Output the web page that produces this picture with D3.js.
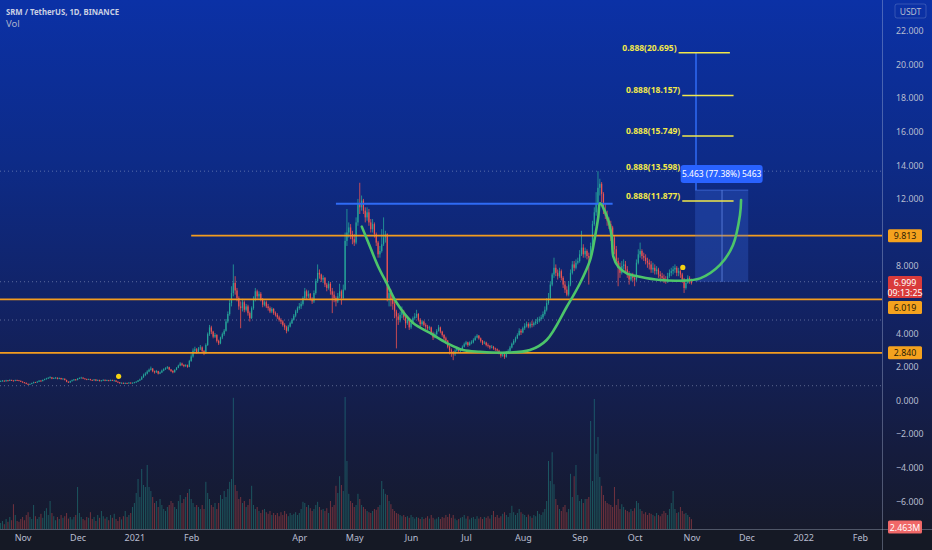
<!DOCTYPE html>
<html><head><meta charset="utf-8">
<script src="https://cdn.jsdelivr.net/npm/d3@7"></script>
<style>
html,body{margin:0;padding:0;background:#131722;}
svg{display:block;}
text{font-family:"Noto Sans",Roboto,sans-serif;}
</style></head><body>
<svg id="chart" width="932" height="550"></svg>
<script>
// ---------------- DATA ----------------
const title = "SRM / TetherUS, 1D, BINANCE";
const subTitle = "Vol";
const firstDay = [2020, 9, 20];           // first daily candle (UTC)
const firstOpen = 1.13;
const closes = [
1.15,1.18,1.14,1.20,1.17,1.22,1.19,1.16,1.21,1.20,
1.17,1.12,1.08,1.05,0.99,0.95,0.98,1.03,1.09,1.07,
1.12,1.18,1.15,1.22,1.27,1.31,1.35,1.38,1.30,1.33,
1.36,1.29,1.34,1.27,1.30,1.22,1.12,1.07,1.15,1.20,
1.25,1.22,1.30,1.34,1.36,1.31,1.28,1.24,1.27,1.22,
1.20,1.25,1.18,1.22,1.16,1.19,1.23,1.18,1.21,1.17,
1.22,1.19,1.19,1.12,1.08,1.03,1.05,1.01,1.04,1.02,
1.06,1.03,1.05,1.08,1.12,1.19,1.25,1.38,1.52,1.60,
1.72,1.83,1.90,1.74,1.68,1.75,1.60,1.67,1.78,1.86,
1.92,1.98,1.85,1.76,1.68,1.82,1.95,2.08,2.20,2.12,
2.05,2.10,2.00,2.35,2.62,2.97,3.05,2.88,3.10,3.16,
2.95,2.80,3.30,3.95,4.35,4.10,3.80,3.90,3.55,3.40,
3.75,3.95,4.15,4.70,5.15,5.80,6.40,7.00,6.55,6.10,
5.60,5.50,5.85,5.40,5.60,5.20,4.90,5.50,6.00,6.50,
6.20,6.35,6.00,5.70,5.85,5.60,5.50,5.30,5.45,5.20,
5.10,4.95,4.80,4.70,4.50,4.35,4.15,4.40,4.60,4.80,
5.05,5.30,5.50,5.60,5.75,6.10,6.50,6.20,6.35,6.05,
5.90,6.40,7.10,7.60,7.50,7.20,7.30,6.90,6.70,6.95,
6.50,6.30,6.10,5.90,6.20,6.50,6.10,6.60,9.50,10.00,
10.30,9.90,9.60,9.40,10.60,11.70,11.50,11.90,11.30,10.90,
11.20,10.60,10.20,10.50,9.90,9.40,8.70,8.90,9.30,9.70,
9.90,6.10,6.40,6.00,5.75,5.30,5.00,4.80,5.10,5.30,
4.95,4.60,4.80,4.35,4.60,4.90,5.00,5.15,4.80,4.55,
4.70,4.50,4.40,4.30,4.35,4.00,3.75,3.95,4.15,4.35,
4.10,3.90,3.70,3.56,3.20,3.00,2.90,2.75,2.97,3.10,
2.95,3.05,3.20,3.35,3.46,3.30,3.45,3.46,3.60,3.75,
3.86,3.70,3.55,3.40,3.45,3.30,3.25,3.16,3.20,3.10,
3.05,2.97,2.80,2.67,2.75,2.60,2.87,2.95,3.15,3.38,
3.55,3.70,3.90,4.15,4.05,4.30,4.45,4.55,4.40,4.55,
4.50,4.60,4.70,4.75,4.85,4.95,5.15,5.40,5.80,6.10,
6.90,7.50,7.90,7.60,7.40,7.70,7.30,6.90,6.60,6.30,
6.90,7.60,8.10,7.90,8.20,8.30,8.70,9.10,8.70,8.90,
8.60,8.50,9.20,10.50,11.20,11.70,12.66,12.90,12.30,11.30,
11.00,10.70,10.50,10.30,9.70,9.00,8.30,7.90,7.60,8.00,
8.10,7.80,7.50,7.20,7.40,7.30,7.20,8.20,8.70,8.90,
8.60,8.50,8.30,8.20,8.10,7.80,7.90,7.70,7.80,7.50,
7.40,7.30,7.20,7.10,7.40,7.60,7.70,7.80,7.90,7.60,
7.70,7.50,7.20,6.70,7.00,7.30,7.10,6.999];
const highs = [
1.19,1.22,1.20,1.23,1.22,1.26,1.24,1.21,1.24,1.24,
1.22,1.19,1.14,1.10,1.07,1.01,1.01,1.06,1.12,1.11,
1.15,1.21,1.21,1.25,1.30,1.35,1.39,1.44,1.39,1.37,
1.40,1.37,1.37,1.35,1.33,1.31,1.24,1.14,1.18,1.24,
1.28,1.28,1.33,1.38,1.41,1.38,1.33,1.30,1.30,1.29,
1.25,1.28,1.27,1.25,1.24,1.22,1.26,1.25,1.24,1.23,
1.25,1.24,1.23,1.21,1.14,1.10,1.08,1.07,1.07,1.06,
1.09,1.08,1.08,1.11,1.15,1.22,1.30,1.45,1.60,1.68,
1.80,1.90,2.02,1.93,1.78,1.82,1.77,1.72,1.84,1.92,
1.98,2.05,2.01,1.88,1.80,1.86,1.99,2.13,2.28,2.25,
2.15,2.16,2.14,2.42,2.75,3.10,3.20,3.12,3.18,3.30,
3.22,3.00,3.40,4.05,4.50,4.45,4.15,4.02,3.95,3.62,
3.80,4.05,4.25,4.85,5.30,6.00,6.80,8.10,7.40,6.70,
6.20,5.90,6.05,5.95,5.75,5.70,5.30,5.60,6.20,6.70,
6.60,6.50,6.45,6.10,5.95,5.95,5.75,5.60,5.55,5.50,
5.30,5.20,5.05,4.90,4.78,4.60,4.45,4.50,4.70,4.90,
5.15,5.40,5.60,5.80,5.90,6.20,6.70,6.60,6.55,6.40,
6.15,6.55,7.25,8.10,7.80,7.55,7.45,7.35,7.00,7.10,
7.05,6.70,6.50,6.20,6.40,6.95,6.60,6.90,10.00,11.40,
10.60,10.50,10.10,9.90,10.90,12.00,12.96,12.20,12.00,11.50,
11.50,11.40,10.80,10.80,10.60,10.00,9.50,9.20,10.20,10.90,
10.10,9.95,6.70,6.60,6.20,5.90,5.40,5.20,5.30,5.60,
5.40,5.05,4.95,4.90,4.75,5.00,5.20,5.40,5.20,4.90,
4.80,4.75,4.60,4.50,4.45,4.40,4.10,4.05,4.25,4.50,
4.40,4.15,3.95,3.80,3.60,3.25,3.10,2.95,3.05,3.20,
3.15,3.12,3.28,3.45,3.55,3.50,3.52,3.58,3.70,3.85,
3.95,3.90,3.75,3.60,3.55,3.50,3.40,3.30,3.30,3.25,
3.15,3.10,3.02,2.85,2.85,2.80,2.95,3.05,3.25,3.45,
3.65,3.80,4.00,4.30,4.25,4.40,4.60,4.70,4.65,4.65,
4.75,4.70,4.85,4.95,5.00,5.10,5.30,5.60,6.10,6.40,
7.10,7.60,8.50,8.10,7.80,7.90,7.80,7.40,7.10,6.80,
7.10,7.80,8.30,8.30,8.40,8.50,8.95,10.10,9.30,9.10,
9.00,8.80,9.40,10.70,11.50,12.40,13.65,13.20,13.00,12.40,
11.70,11.30,10.90,10.70,10.40,9.80,9.20,8.50,8.20,8.30,
8.40,8.30,8.00,7.70,7.60,7.60,7.40,8.40,9.00,9.40,
9.00,8.80,8.70,8.50,8.40,8.30,8.20,8.10,8.00,7.90,
7.70,7.60,7.50,7.40,7.60,7.80,7.90,8.00,8.10,8.00,
7.90,7.80,7.60,7.30,7.20,7.45,7.40,7.25];
const lows = [
1.11,1.13,1.12,1.13,1.14,1.16,1.16,1.13,1.15,1.16,
1.15,1.10,1.06,1.02,0.97,0.92,0.94,0.97,1.02,1.04,
1.05,1.10,1.12,1.14,1.20,1.25,1.29,1.32,1.27,1.28,
1.30,1.26,1.27,1.24,1.25,1.19,1.09,1.04,1.06,1.13,
1.18,1.19,1.20,1.28,1.31,1.28,1.25,1.21,1.22,1.19,
1.17,1.18,1.15,1.16,1.13,1.14,1.17,1.15,1.16,1.14,
1.15,1.16,1.15,1.10,1.05,1.00,1.01,0.98,0.99,0.99,
1.01,1.01,1.02,1.03,1.06,1.10,1.16,1.23,1.35,1.45,
1.55,1.68,1.78,1.68,1.60,1.64,1.55,1.57,1.64,1.74,
1.82,1.88,1.80,1.70,1.62,1.66,1.80,1.92,2.04,2.05,
1.98,2.00,1.95,1.98,2.30,2.55,2.85,2.78,2.85,3.00,
2.85,2.70,2.78,3.25,3.85,3.95,3.70,3.72,3.45,3.30,
3.35,3.65,3.85,4.10,4.60,5.05,5.60,6.20,6.30,5.90,
5.40,4.30,5.30,5.25,5.30,5.05,4.70,4.85,5.40,5.90,
6.05,6.05,5.90,5.55,5.60,5.50,5.35,5.20,5.20,5.10,
5.00,4.85,4.70,4.55,4.40,4.20,4.00,4.10,4.35,4.55,
4.75,4.95,5.20,5.40,5.45,5.65,6.00,6.05,6.10,5.95,
5.75,5.80,6.30,7.00,7.25,7.05,7.00,6.75,6.50,6.60,
6.30,5.20,5.85,5.60,5.80,6.10,5.70,6.00,6.55,9.20,
9.70,9.60,9.30,9.20,9.30,10.40,11.10,11.30,11.10,10.60,
10.70,10.40,10.00,10.00,9.70,9.20,8.50,8.50,8.80,9.20,
9.40,5.90,5.60,5.60,5.40,4.90,3.10,4.50,4.65,4.90,
4.80,4.30,4.50,4.20,4.25,4.55,4.80,4.90,4.70,4.40,
4.45,4.40,4.25,4.20,4.20,3.90,3.60,3.70,3.85,4.10,
4.00,3.80,3.60,3.40,3.10,2.75,2.60,2.40,2.65,2.90,
2.85,2.88,3.00,3.15,3.28,3.20,3.25,3.35,3.40,3.55,
3.70,3.62,3.45,3.30,3.35,3.22,3.15,3.05,3.10,3.02,
2.95,2.90,2.75,2.55,2.60,2.48,2.55,2.80,2.90,3.10,
3.30,3.45,3.65,3.85,3.90,4.00,4.20,4.35,4.30,4.30,
4.35,4.40,4.50,4.55,4.65,4.75,4.85,5.05,5.30,5.70,
6.00,6.80,7.30,7.40,7.20,7.30,7.15,6.70,6.40,6.20,
6.20,6.80,7.50,7.70,7.80,8.10,8.20,8.60,8.50,8.50,
8.40,6.90,8.40,9.10,10.40,11.00,11.60,12.20,11.80,11.10,
10.80,10.40,10.20,9.50,9.40,8.70,8.10,6.80,7.30,7.50,
7.80,7.60,7.30,6.90,7.10,7.10,6.80,7.10,8.10,8.50,
8.40,8.30,8.10,7.90,7.80,7.60,7.60,7.50,7.50,7.30,
7.20,7.10,7.00,6.95,7.00,7.30,7.40,7.50,7.60,7.40,
7.40,7.30,7.00,6.40,6.60,6.95,6.95,6.90];
const volumesM = [
1.5,2.0,1.2,2.5,1.8,3.0,2.2,6.2,3.5,2.0,
1.8,2.5,3.0,2.2,3.5,4.2,3.0,2.5,6.0,3.2,
2.5,3.0,3.8,2.8,4.5,5.2,3.5,7.0,4.0,3.2,
2.2,3.0,2.5,3.5,2.8,3.2,4.0,2.6,3.0,2.4,
3.0,3.5,10.5,4.0,3.0,2.5,2.2,3.0,2.8,4.2,
2.5,3.0,2.0,3.5,2.8,4.5,3.2,2.6,3.0,2.2,
3.5,2.8,3.8,2.5,2.0,3.0,2.4,3.2,4.5,3.0,
3.5,4.0,5.5,6.5,9.0,12.5,8.0,15.0,11.0,10.5,
16.0,10.5,9.5,8.0,6.5,7.0,5.5,7.5,6.0,5.0,
4.5,5.5,6.0,7.0,6.5,5.5,5.0,7.0,8.5,6.5,
7.5,8.0,9.0,10.0,7.5,6.5,5.5,6.0,5.5,5.0,
6.0,5.0,11.8,9.0,7.5,6.0,5.5,6.5,5.0,6.5,
8.5,7.5,9.5,8.0,10.0,11.8,12.5,32.8,11.0,9.5,
7.5,8.0,6.5,7.0,5.5,6.0,7.5,10.8,6.0,5.0,
5.5,4.5,4.0,4.8,5.0,4.2,3.8,4.5,3.5,4.0,
3.5,4.0,3.2,4.2,3.5,4.5,3.8,3.2,4.0,3.5,
3.8,4.2,3.5,4.0,5.0,6.8,6.5,5.5,6.0,5.2,
4.5,5.0,6.0,6.8,5.5,4.8,5.0,4.5,5.2,4.0,
7.0,5.5,6.0,10.8,9.0,13.2,11.0,9.5,33.0,17.0,
8.8,7.0,6.5,5.5,6.0,8.8,7.5,6.0,5.5,5.0,
4.5,4.2,4.0,4.5,5.0,4.8,5.5,6.0,12.0,10.0,
8.8,8.5,7.0,6.2,5.0,4.5,4.0,3.8,3.5,3.2,
3.5,3.0,3.2,2.8,3.5,3.0,2.6,3.0,2.8,2.5,
3.0,2.5,2.8,3.2,2.6,3.5,2.8,2.4,2.6,3.0,
2.5,3.0,2.8,3.5,3.0,3.8,2.8,3.5,2.6,2.2,
2.5,2.8,3.0,3.5,2.6,3.2,2.4,2.8,3.0,2.5,
3.2,2.6,3.0,2.5,3.0,2.8,3.2,2.6,3.5,4.5,
3.0,3.5,2.8,3.2,3.8,4.2,3.5,3.0,4.0,5.8,
4.2,3.5,4.0,5.0,4.2,3.8,3.5,3.0,3.6,3.2,
2.8,3.5,3.2,4.5,3.8,3.5,4.2,5.0,7.0,17.0,
12.0,19.2,11.2,7.5,6.0,5.0,4.5,5.5,6.0,4.2,
5.0,13.8,8.0,13.2,16.0,8.5,7.0,7.5,6.5,7.5,
7.5,8.0,27.0,12.0,32.5,18.8,23.0,13.0,10.8,8.5,
7.0,6.5,6.2,6.0,5.5,10.5,6.0,7.5,5.0,6.2,
5.5,4.8,4.5,4.2,5.0,4.5,5.2,7.0,6.5,5.0,
4.5,3.8,4.2,3.5,4.0,3.8,3.5,3.2,4.0,3.5,
3.2,3.8,4.5,4.0,3.5,5.0,6.5,9.5,5.0,4.0,
4.2,5.5,4.5,3.8,4.0,3.5,3.0,2.463];

const timeTickDates = ["2020-11-01","2020-12-01","2021-01-01","2021-02-01","2021-04-01","2021-05-01","2021-06-01","2021-07-01","2021-08-01","2021-09-01","2021-10-01","2021-11-01","2021-12-01","2022-01-01","2022-02-01"];
const timeTickLabels = ["Nov","Dec","2021","Feb","Apr","May","Jun","Jul","Aug","Sep","Oct","Nov","Dec","2022","Feb"];
const priceTicks = [22,20,18,16,14,12,8,4,2,0,-2,-4,-6];

// support / resistance levels (price, first day index of the ray)
const orangeLevels = [9.813, 6.019, 2.840];
const orangeStartDay = [104, -30, -30];
const dottedLevels = [13.65, 7.07, 4.79, 0.88];
const blueLevel = 11.71, blueFromDay = 183, blueToDay = 334;
// cup & handle curve: [day index, price]
const cupCurve = [
[197.1,10.35],[201.6,9.15],[206.1,7.96],[210.7,6.98],[216.2,5.80],[225.1,4.61],[234.3,4.02],
[243.5,3.42],[252.4,3.00],[261.6,2.90],[276.2,2.85],[288.9,3.00],[298.0,3.60],[309.0,5.58],
[316.2,6.98],[321.7,8.36],[324.4,9.75],[326.2,10.94],[327.1,11.74],[331.6,10.74],[333.5,9.75],
[334.4,8.56],[337.1,7.96],[341.7,7.57],[348.9,7.37],[359.9,7.17],[370.8,7.13],[381.7,7.27],
[392.6,8.07],[399.7,9.26],[403.5,11.04],[404.1,11.93]];
// fib extension levels
const fibLevels = [20.695, 18.157, 15.749, 13.598, 11.877];
const fibRatioText = ["0.888","0.888","0.888","0.888","0.888"];
const fibLineDays = [[370,398],[372,400],[372,400],[372,400],[372,400]];
const fibStemDay = 379.5;
// price range measure
const measureFrom = 7.06, measureTo = 12.523, measureDays = [379, 408], measureMidDay = 393.7;
const measureText = "5.463 (77.38%) 5463";
// marker dots: [day, price]
const dots = [[64.4,1.44],[372.3,7.92]];
const lastPrice = "6.999", countdown = "09:13:25", lastVolume = "2.463M";

// ---------------- DRAW ----------------
const W = 932, H = 550, plotR = 882, plotB = 529;
const svg = d3.select("#chart");
const defs = svg.append("defs");
const grad = defs.append("linearGradient").attr("id","bg").attr("x1",0).attr("y1",0).attr("x2",0).attr("y2",1);
[[0,"#0b31a6"],[0.3,"#0d2b88"],[0.6,"#122262"],[0.85,"#151c3e"],[1,"#161a2c"]].forEach(s=>grad.append("stop").attr("offset",s[0]).attr("stop-color",s[1]));
svg.append("rect").attr("width",W).attr("height",plotB).attr("fill","url(#bg)");
svg.append("rect").attr("y",plotB).attr("width",W).attr("height",H-plotB).attr("fill","#151925");

const day0 = Date.UTC(...firstDay);
const dayDate = d => new Date(day0 + d*86400000);
const x = d3.scaleUtc().domain([new Date("2020-11-01T00:00:00Z"), new Date("2022-02-01T00:00:00Z")]).range([22.6, 860]);
const y = d3.scaleLinear().domain([0, 22]).range([400.5, 400.5-22*16.8]);
const vY = d3.scaleLinear().domain([0, 33]).range([plotB, plotB-132]);
const xd = d => x(dayDate(d));

const plot = svg.append("g");
// dotted levels
plot.selectAll(".dot-lvl").data(dottedLevels).join("line")
  .attr("x1",0).attr("x2",plotR).attr("y1",d=>y(d)).attr("y2",d=>y(d))
  .attr("stroke","rgba(180,190,220,0.45)").attr("stroke-width",1).attr("stroke-dasharray","1,3");

// volume
const data = closes.map((c,i)=>({d:i, o: i===0?firstOpen:closes[i-1], h:highs[i], l:lows[i], c, v:volumesM[i]}));
const bw = 1.2;
plot.append("g").selectAll("rect").data(data).join("rect")
  .attr("x",d=>xd(d.d)-0.5).attr("width",1.0)
  .attr("y",d=>vY(d.v)).attr("height",d=>plotB-vY(d.v))
  .attr("fill",d=>d.c>=d.o?"rgba(38,166,154,0.42)":"rgba(239,83,80,0.42)");

// candles
const cg = plot.append("g");
cg.selectAll("line").data(data).join("line")
  .attr("x1",d=>xd(d.d)).attr("x2",d=>xd(d.d)).attr("y1",d=>y(d.h)).attr("y2",d=>y(d.l))
  .attr("stroke",d=>d.c>=d.o?"#26a69a":"#ef5350").attr("stroke-width",0.8);
cg.selectAll("rect").data(data).join("rect")
  .attr("x",d=>xd(d.d)-bw/2).attr("width",bw)
  .attr("y",d=>y(Math.max(d.o,d.c))).attr("height",d=>Math.max(0.8, Math.abs(y(d.o)-y(d.c))))
  .attr("fill",d=>d.c>=d.o?"#26a69a":"#ef5350");

// orange levels
plot.selectAll(".org").data(orangeLevels).join("line")
  .attr("x1",(d,i)=>Math.max(0,xd(orangeStartDay[i]))).attr("x2",plotR)
  .attr("y1",d=>y(d)).attr("y2",d=>y(d))
  .attr("stroke","#f39c1f").attr("stroke-width",1.8);

// blue resistance
plot.append("line").attr("x1",xd(blueFromDay)).attr("x2",xd(blueToDay))
  .attr("y1",y(blueLevel)).attr("y2",y(blueLevel)).attr("stroke","#2f6bf5").attr("stroke-width",2);

// measure box
plot.append("rect").attr("x",xd(measureDays[0])).attr("width",xd(measureDays[1])-xd(measureDays[0]))
  .attr("y",y(measureTo)).attr("height",y(measureFrom)-y(measureTo))
  .attr("fill","rgba(60,110,230,0.28)");
plot.append("line").attr("x1",xd(measureDays[0])).attr("x2",xd(measureDays[1]))
  .attr("y1",y(measureTo)).attr("y2",y(measureTo)).attr("stroke","rgba(90,140,255,0.5)");
plot.append("line").attr("x1",xd(measureMidDay)).attr("x2",xd(measureMidDay))
  .attr("y1",y(measureTo)).attr("y2",y(measureFrom)).attr("stroke","rgba(120,160,255,0.6)").attr("stroke-width",1);

// cup curve
plot.append("path").datum(cupCurve)
  .attr("d", d3.line().x(p=>xd(p[0])).y(p=>y(p[1])).curve(d3.curveCatmullRom.alpha(0.5)))
  .attr("fill","none").attr("stroke","#4cc56a").attr("stroke-width",2.6).attr("stroke-linecap","round");

// fib stem
plot.append("line").attr("x1",xd(fibStemDay)).attr("x2",xd(fibStemDay))
  .attr("y1",y(fibLevels[0])).attr("y2",y(measureTo)).attr("stroke","#2f6bf5").attr("stroke-width",1.5);
// fib lines and labels
plot.selectAll(".fibl").data(fibLevels).join("line")
  .attr("x1",(d,i)=>xd(fibLineDays[i][0])).attr("x2",(d,i)=>xd(fibLineDays[i][1]))
  .attr("y1",d=>y(d)).attr("y2",d=>y(d)).attr("stroke","#f2e84a").attr("stroke-width",1.5);
plot.selectAll(".fibt").data(fibLevels).join("text")
  .attr("x",(d,i)=>xd(fibLineDays[i][0])-2).attr("y",d=>y(d)-2)
  .attr("text-anchor","end").attr("font-size",8.5).attr("font-weight","bold").attr("fill","#f2e84a")
  .text((d,i)=>fibRatioText[i]+"("+d3.format(".3f")(d)+")");

// measure label
const mx = (xd(measureDays[0])+xd(measureDays[1]))/2;
plot.append("rect").attr("x",mx-41).attr("y",y(measureTo)-25).attr("width",82).attr("height",18).attr("rx",3)
  .attr("fill","#2962ff");
plot.append("text").attr("x",mx).attr("y",y(measureTo)-13).attr("text-anchor","middle")
  .attr("font-size",8.5).attr("fill","#ffffff").text(measureText);

// dots
plot.selectAll(".mk").data(dots).join("circle")
  .attr("cx",p=>xd(p[0])).attr("cy",p=>y(p[1])).attr("r",2.6).attr("fill","#f5d312");

// axes separators
svg.append("line").attr("x1",plotR+0.5).attr("x2",plotR+0.5).attr("y1",0).attr("y2",H).attr("stroke","rgba(190,200,230,0.35)");
svg.append("line").attr("x1",0).attr("x2",W).attr("y1",plotB+0.5).attr("y2",plotB+0.5).attr("stroke","rgba(190,200,230,0.35)");

// right axis
const ra = svg.append("g").attr("transform","translate(896,0)")
  .call(d3.axisRight(y).tickValues(priceTicks).tickFormat(d3.format(".3f")).tickSize(0).tickPadding(0));
ra.select(".domain").remove();
ra.selectAll("text").attr("font-size",8.8).attr("fill","#b8bdd0").attr("font-family","'Noto Sans',Roboto,sans-serif");

// bottom axis
const ba = svg.append("g").attr("transform",`translate(0,${plotB})`)
  .call(d3.axisBottom(x).tickValues(timeTickDates.map(s=>new Date(s+"T00:00:00Z"))).tickFormat((d,i)=>timeTickLabels[i]).tickSize(0).tickPadding(6));
ba.select(".domain").remove();
ba.selectAll("text").attr("font-size",9).attr("fill","#b8bdd0").attr("font-family","'Noto Sans',Roboto,sans-serif");

// USDT label
svg.append("rect").attr("x",895).attr("y",4).attr("width",31).attr("height",14).attr("rx",2)
  .attr("fill","none").attr("stroke","rgba(150,170,220,0.3)");
svg.append("text").attr("x",910.5).attr("y",14.5).attr("text-anchor","middle").attr("font-size",8.5).attr("fill","#b8bdd0").text("USDT");

// price labels
function tag(cy, h, fill, lines, color){
  svg.append("rect").attr("x",888).attr("y",cy-h/2).attr("width",34).attr("height",h).attr("rx",1.5).attr("fill",fill);
  lines.forEach((t,i)=>svg.append("text").attr("x",905).attr("y",cy-h/2+10+i*10.5).attr("text-anchor","middle")
    .attr("font-size",8.8).attr("fill",color).text(t));
}
tag(y(orangeLevels[0]), 13, "#f5a21e", [d3.format(".3f")(orangeLevels[0])], "#2a1c05");
tag(y(7.0)+4, 22, "#d93b3b", [lastPrice, countdown], "#ffffff");
tag(y(orangeLevels[1])+8, 13, "#f5a21e", [d3.format(".3f")(orangeLevels[1])], "#2a1c05");
tag(y(orangeLevels[2]), 13, "#f5a21e", [d3.format(".3f")(orangeLevels[2])], "#2a1c05");
tag(527, 13, "#f06868", [lastVolume], "#ffffff");

// title
svg.append("text").attr("x",6).attr("y",15).attr("font-size",9.5).attr("font-weight","bold").attr("fill","#c9cfe3")
  .attr("textLength",113).attr("lengthAdjust","spacingAndGlyphs").text(title);
svg.append("text").attr("x",6).attr("y",27).attr("font-size",9.5).attr("fill","#aab2cc").text(subTitle);
</script>
</body></html>
